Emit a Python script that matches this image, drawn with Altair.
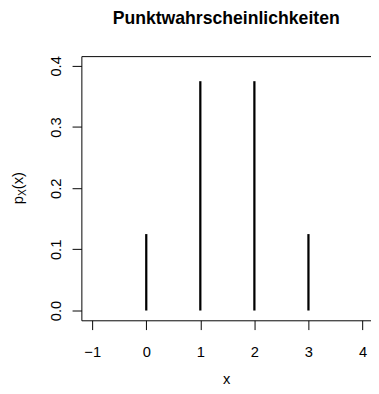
import altair as alt
import pandas as pd

# data
xs = [0, 1, 2, 3]
probs = [0.125, 0.375, 0.375, 0.125]
x_ticks = [-1, 0, 1, 2, 3, 4]
y_ticks = [0.0, 0.1, 0.2, 0.3, 0.4]
title_text = "Punktwahrscheinlichkeiten"
ylab_parts = ["p", "X", "(x)"]
xlab = "x"

FONT = "Liberation Sans"
df = pd.DataFrame({"x": xs, "p": probs})

xscale = alt.Scale(domain=[-1.2, 4.157], nice=False, zero=False)
yscale = alt.Scale(domain=[-0.016, 0.416], nice=False, zero=False)

bars = alt.Chart(df).mark_rule(color="black", strokeWidth=2.3).encode(
    x=alt.X("x:Q", scale=xscale,
            axis=alt.Axis(values=x_ticks, format="d", domain=True, domainColor="black",
                          grid=False,
                          tickSize=9.5, tickColor="black", labelColor="black",
                          labelFont=FONT, labelFontSize=15, labelPadding=15,
                          title=xlab, titleFont=FONT, titleFontSize=15,
                          titleFontWeight="normal", titleColor="black",
                          titleBaseline="alphabetic", titlePadding=25)),
    y=alt.Y("p:Q", scale=yscale,
            axis=alt.Axis(values=y_ticks, format=".1f", domain=True, domainColor="black",
                          grid=False,
                          tickSize=9.5, tickColor="black", labelColor="black",
                          labelFont=FONT, labelFontSize=15, labelAngle=270,
                          labelAlign="center", labelBaseline="alphabetic",
                          labelPadding=12, title=None)),
    y2=alt.datum(0),
)

# top frame line via a top axis on the same x scale
top = alt.Chart(df).mark_point(opacity=0).encode(
    x=alt.X("x:Q", scale=xscale,
            axis=alt.Axis(orient="top", domain=True, domainColor="black", ticks=False,
                          labels=False, grid=False, title=None)),
    y=alt.Y("p:Q", scale=yscale),
)

one = pd.DataFrame({"k": [0]})
y0 = 151.4
w_p = 8.34
w_X = 7.0
t_p = alt.Chart(one).mark_text(angle=270, align="left", baseline="alphabetic",
                               font=FONT, fontSize=15, color="black").encode(
    x=alt.value(-60), y=alt.value(y0), text=alt.value(ylab_parts[0]))
t_X = alt.Chart(one).mark_text(angle=270, align="left", baseline="alphabetic",
                               font=FONT, fontSize=10.5, color="black").encode(
    x=alt.value(-56.5), y=alt.value(y0 - w_p), text=alt.value(ylab_parts[1]))
t_x = alt.Chart(one).mark_text(angle=270, align="left", baseline="alphabetic",
                               font=FONT, fontSize=15, color="black").encode(
    x=alt.value(-60), y=alt.value(y0 - w_p - w_X), text=alt.value(ylab_parts[2]))

chart = alt.layer(bars, top, t_p, t_X, t_x).resolve_axis(x="independent").properties(
    width=296, height=270,
    title=alt.TitleParams(title_text, font=FONT, fontSize=18, fontWeight="bold",
                          anchor="middle", color="black", offset=28),
    autosize=alt.AutoSizeParams(type="none"),
    padding={"left": 75, "top": 45, "right": 0, "bottom": 65},
).configure_view(stroke="transparent")

chart.save("out.html", embed_options={"renderer": "svg", "actions": False})
